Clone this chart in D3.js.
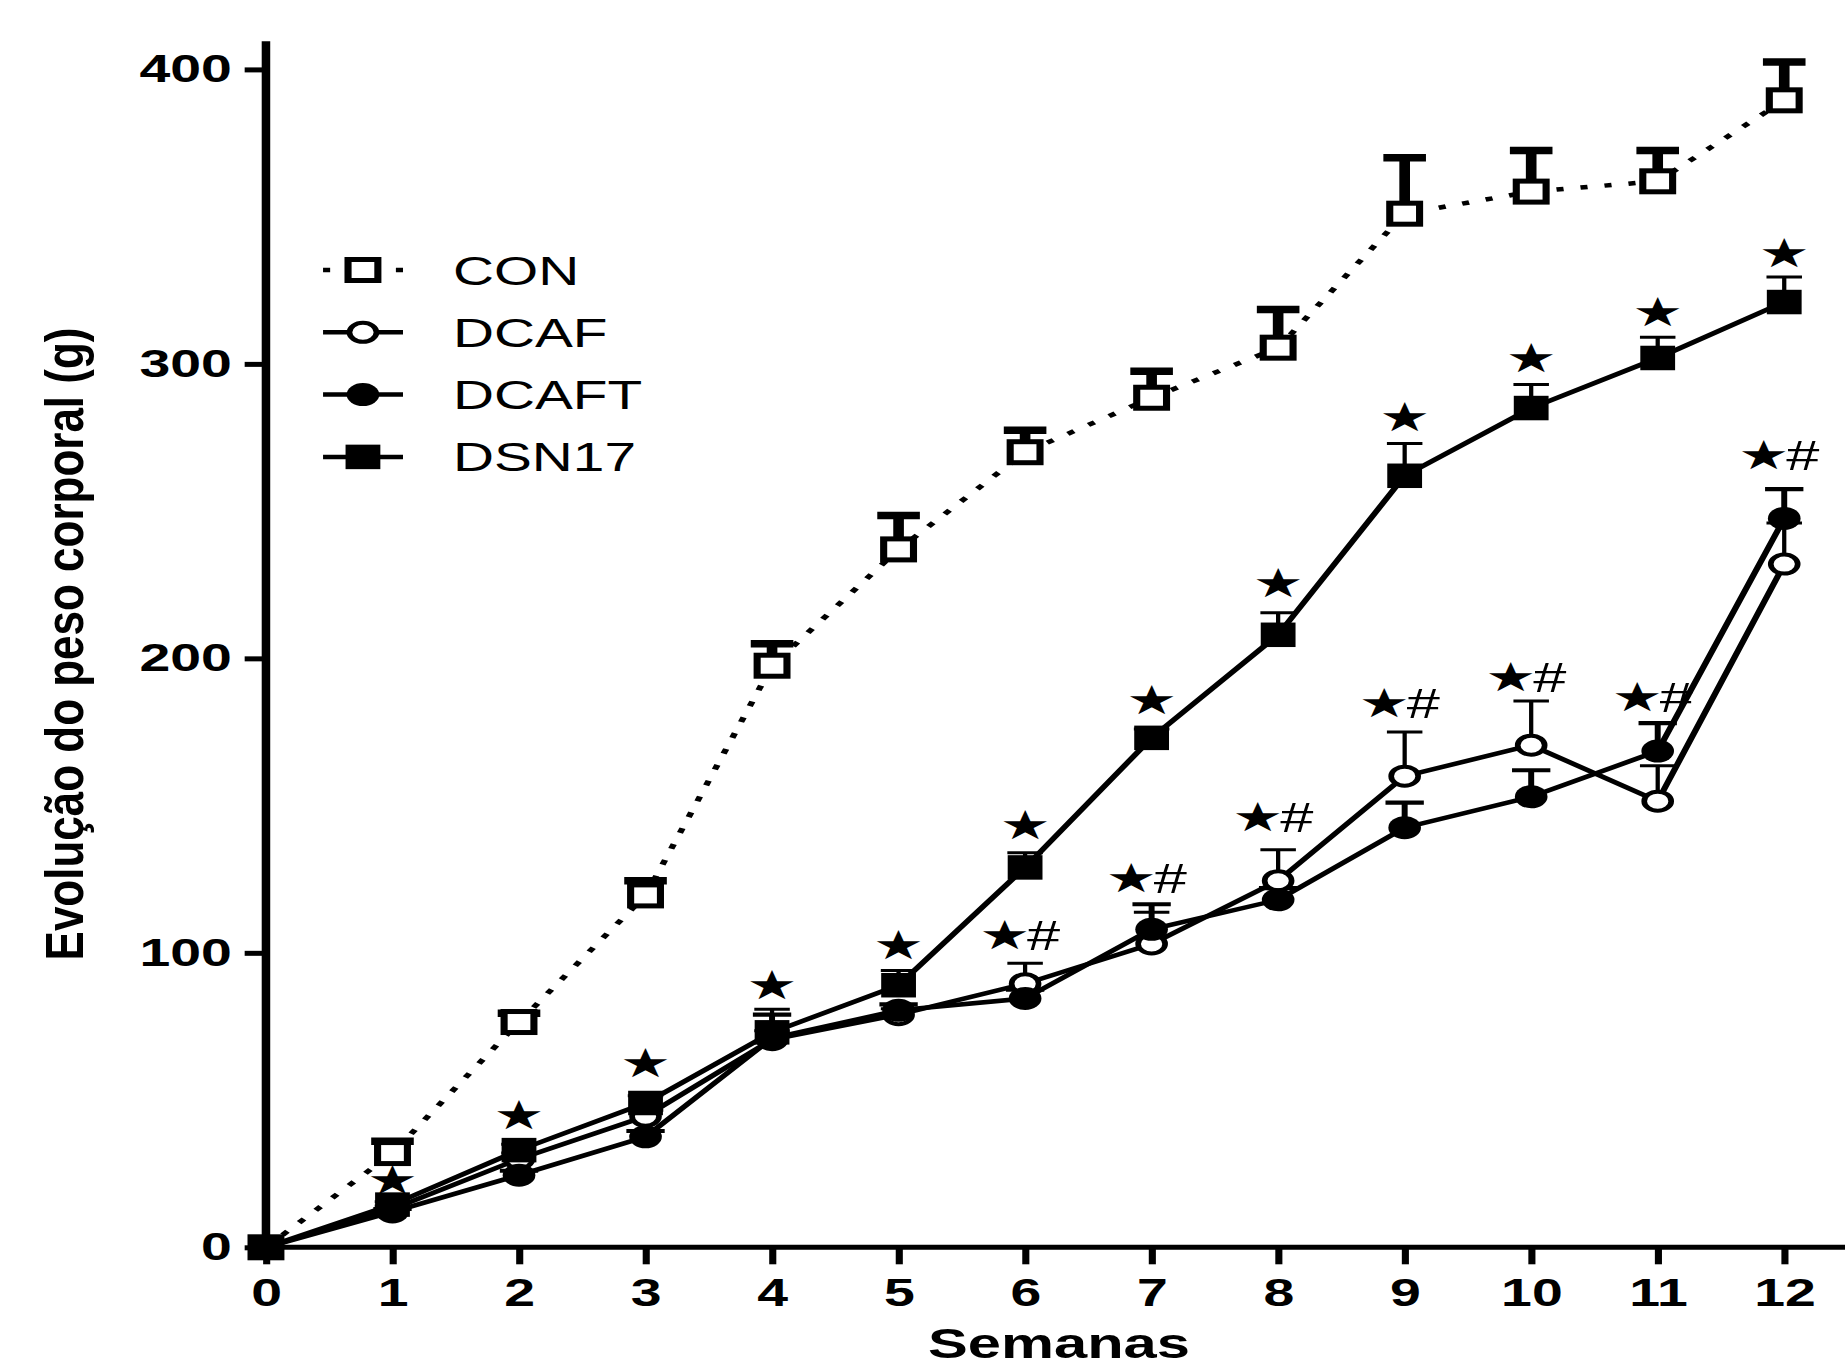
<!DOCTYPE html>
<html>
<head>
<meta charset="utf-8">
<script src="https://cdn.jsdelivr.net/npm/d3@7"></script>
<style>
  body { margin: 0; background: #fff; }
  svg { display: block; }
</style>
</head>
<body>
<svg id="chart" width="1845" height="1368"></svg>
<script>
// weeks and group means / SEM (g)
const weeks = [0, 1, 2, 3, 4, 5, 6, 7, 8, 9, 10, 11, 12];
const yTicks = [0, 100, 200, 300, 400];

const conMean   = [0, 32, 76.5, 119.5, 197.5, 237, 270, 288.5, 305.5, 351, 358.5, 362, 389.5];
const conErr    = [0, 4, 3, 5, 7.5, 11.5, 7.5, 9, 13, 19, 14, 10.5, 13];
const dcafMean  = [0, 13, 30, 44.5, 70.5, 79, 89.5, 103, 124.5, 160, 170.5, 151.5, 232];
const dcafErr   = [0, 1, 2, 2, 3, 2, 7, 10.8, 10.5, 15, 15, 12, 14];
const dcaftMean = [0, 12, 24.5, 37.5, 71, 80.5, 84.5, 108, 118, 142.5, 153, 168.5, 247.5];
const dcaftErr  = [0, 1, 1.5, 2, 8, 2, 3, 8.5, 4, 8.5, 9, 9.5, 10];
const dsnMean   = [0, 14.5, 33, 49, 73, 89, 129, 173, 208, 262, 285, 302, 321];
const dsnErr    = [0, 1, 2, 2.5, 7.8, 5, 5, 3, 7.5, 11, 8, 7, 8.5];

// significance marks: level (g) where each mark sits
const starLevel = [null, 23, 45, 62.5, 89, 102.5, 143.5, 186, 225.5, 282, 302, 317.5, 337.5];
const hashLevel = [null, null, null, null, null, null, 106, 125.5, 146, 185, 193.5, 187, 269];

const legendNames = ["CON", "DCAF", "DCAFT", "DSN17"];

const series = [
    { name: "CON",   mean: conMean,   err: conErr,   shape: "square", filled: false, dotted: true,  barW: 7.5, capW: 30 },
    { name: "DCAF",  mean: dcafMean,  err: dcafErr,  shape: "circle", filled: false, dotted: false, barW: 3,   capW: 25 },
    { name: "DCAFT", mean: dcaftMean, err: dcaftErr, shape: "circle", filled: true,  dotted: false, barW: 4.2, capW: 27 },
    { name: "DSN17", mean: dsnMean,   err: dsnErr,   shape: "square", filled: true,  dotted: false, barW: 3,   capW: 25 }
];

const FONT = "'Liberation Sans', Arial, sans-serif";
const SX = 1.42; // the figure is stretched horizontally

const svg = d3.select("#chart");
const g = svg.append("g").attr("transform", `scale(${SX},1)`);

const x = d3.scaleLinear().domain([0, 12]).range([187.3, 1256.5]);
const y = d3.scaleLinear().domain([0, 400]).range([1247.3, 69.4]);

// axes
const xAxis = g.append("g")
    .attr("transform", `translate(0,${y(0)})`)
    .call(d3.axisBottom(x).tickValues(weeks).tickSize(17).tickPadding(14).tickSizeOuter(0));
xAxis.select(".domain").attr("d", `M${x(0)},0H${x(12.5)}`);

const yAxis = g.append("g")
    .attr("transform", `translate(${x(0)},0)`)
    .call(d3.axisLeft(y).tickValues(yTicks).tickSize(15).tickPadding(9).tickSizeOuter(0));
yAxis.select(".domain").attr("d", `M0,${y(0) + 2}V${y(409.6)}`).attr("stroke-width", 6);

[xAxis, yAxis].forEach(a => {
    a.select(".domain").attr("stroke", "#000");
    if (a === xAxis) a.select(".domain").attr("stroke-width", 5);
    a.selectAll(".tick line").attr("stroke", "#000").attr("stroke-width", 5);
    a.selectAll(".tick text")
        .attr("fill", "#000")
        .style("font-family", FONT)
        .style("font-weight", "bold")
        .style("font-size", "39px");
});

// lines
const line = d3.line().x((d, i) => x(weeks[i])).y(d => y(d));

g.selectAll(".series-line")
    .data(series)
    .enter()
    .append("path")
    .attr("class", "series-line")
    .attr("d", s => line(s.mean))
    .attr("fill", "none")
    .attr("stroke", "#000")
    .attr("stroke-width", 4.5)
    .attr("stroke-dasharray", s => s.dotted ? "5,12" : null);

// error bars (upper only)
series.forEach(s => {
    const bars = g.append("g");
    weeks.forEach((w, i) => {
        if (!s.err[i]) return;
        const top = y(s.mean[i] + s.err[i]);
        bars.append("line")
            .attr("x1", x(w)).attr("x2", x(w))
            .attr("y1", y(s.mean[i])).attr("y2", top)
            .attr("stroke", "#000").attr("stroke-width", s.barW);
        bars.append("line")
            .attr("x1", x(w) - s.capW / 2).attr("x2", x(w) + s.capW / 2)
            .attr("y1", top).attr("y2", top)
            .attr("stroke", "#000").attr("stroke-width", s.barW);
    });
});

function drawMarker(sel, s, cx, cy) {
    if (s.shape === "square") {
        const side = s.filled ? 22 : 21;
        sel.append("rect")
            .attr("x", cx - side / 2).attr("y", cy - side / 2)
            .attr("width", side).attr("height", side)
            .attr("fill", s.filled ? "#000" : "#fff")
            .attr("stroke", "#000")
            .attr("stroke-width", s.filled ? 2.5 : 5);
    } else {
        sel.append("circle")
            .attr("cx", cx).attr("cy", cy)
            .attr("r", s.filled ? 11.5 : 9.5)
            .attr("fill", s.filled ? "#000" : "#fff")
            .attr("stroke", "#000")
            .attr("stroke-width", s.filled ? 0 : 4);
    }
}

// markers
series.forEach(s => {
    const m = g.append("g");
    weeks.forEach((w, i) => drawMarker(m, s, x(w), y(s.mean[i])));
});

// significance marks
const marks = g.append("g").attr("fill", "#000");
weeks.forEach((w, i) => {
    if (starLevel[i] != null) {
        marks.append("text")
            .attr("x", x(w)).attr("y", y(starLevel[i]) + 14)
            .attr("text-anchor", "middle")
            .style("font-family", "'DejaVu Sans', sans-serif")
            .style("font-size", "40px")
            .text("★");
    }
    if (hashLevel[i] != null) {
        marks.append("text")
            .attr("x", x(w) - 14.4).attr("y", y(hashLevel[i]) + 14)
            .attr("text-anchor", "middle")
            .style("font-family", "'DejaVu Sans', sans-serif")
            .style("font-size", "40px")
            .text("★");
        marks.append("text")
            .attr("x", x(w) + 13.1).attr("y", y(hashLevel[i]) + 15)
            .attr("text-anchor", "middle")
            .style("font-family", FONT)
            .style("font-size", "42px")
            .text("#");
    }
});

// legend
const legend = g.append("g").attr("transform", "translate(227.5,270)");
legendNames.forEach((name, i) => {
    const s = series.find(d => d.name === name);
    const row = legend.append("g").attr("transform", `translate(0,${i * 62.3})`);
    row.append("line")
        .attr("x1", 0).attr("x2", 56.3)
        .attr("y1", 0).attr("y2", 0)
        .attr("stroke", "#000")
        .attr("stroke-width", 4.5)
        .attr("stroke-dasharray", s.dotted ? "5,46.3,5" : null);
    drawMarker(row, s, 28.1, 0);
    row.append("text")
        .attr("x", 91.5).attr("y", 14.5)
        .style("font-family", FONT)
        .style("font-size", "40px")
        .text(name);
});

// axis titles
g.append("text")
    .attr("x", 745.8).attr("y", 1358)
    .attr("text-anchor", "middle")
    .style("font-family", FONT)
    .style("font-weight", "bold")
    .style("font-size", "42px")
    .text("Semanas");

svg.append("text")
    .attr("transform", "translate(83,644) scale(1.2,1) rotate(-90)")
    .attr("text-anchor", "middle")
    .style("font-family", FONT)
    .style("font-weight", "bold")
    .style("font-size", "44px")
    .text("Evolução do peso corporal (g)");
</script>
</body>
</html>
